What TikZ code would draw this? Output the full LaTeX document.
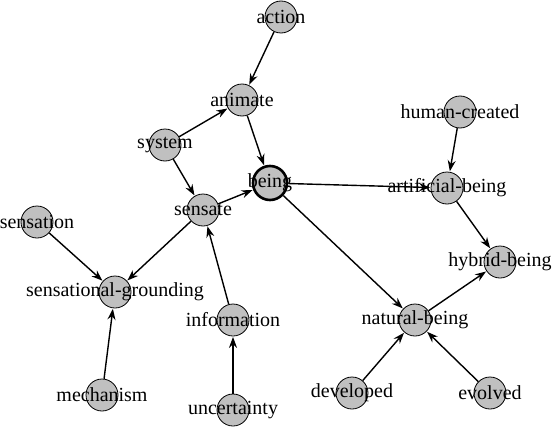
\documentclass[tikz,border=0pt]{standalone}
\usepackage{fontspec}
\setmainfont{Liberation Serif}
\usepackage{xcolor}
\usepackage{tikz}
\usetikzlibrary{shapes.geometric, arrows.meta}

\definecolor{nodegray}{HTML}{C0C0C0}

\begin{document}
\begin{tikzpicture}[
  x=1pt, y=-1pt,
  concept/.style={circle, draw, fill=nodegray, line width=0.8pt,
                  minimum size=32pt, inner sep=0pt,
                  label={[font=\fontsize{20}{22}\selectfont, inner sep=0pt]center:#1}},
  arr/.style={-{Stealth[length=11pt, width=8pt]}, line width=1.4pt, shorten >=0.5pt}
]
  \useasboundingbox (0,0) rectangle (556,428);

  \node[concept=action] (action) at (281,17) {};
  \node[concept=animate] (animate) at (242,100) {};
  \node[concept=system] (system) at (165,145) {};
  \node[concept=being, line width=2.6pt, minimum size=34pt] (being) at (270,183) {};
  \node[concept=sensate] (sensate) at (203,210) {};
  \node[concept=sensation] (sensation) at (37,222) {};
  \node[concept=sensational-grounding] (sg) at (115,292) {};
  \node[concept=information] (info) at (233,320) {};
  \node[concept=mechanism] (mech) at (102,395) {};
  \node[concept=uncertainty] (unc) at (233,410) {};
  \node[concept=human-created] (human) at (460,112) {};
  \node[concept=artificial-being] (art) at (447,188) {};
  \node[concept=hybrid-being] (hyb) at (500,262) {};
  \node[concept=natural-being] (nat) at (415,320) {};
  \node[concept=developed] (dev) at (352,393) {};
  \node[concept=evolved] (evo) at (490,393) {};

  \draw[arr] (action) -- (animate);
  \draw[arr] (system) -- (animate);
  \draw[arr] (animate) -- (being);
  \draw[arr] (system) -- (sensate);
  \draw[arr] (sensate) -- (being);
  \draw[arr] (being) -- (art);
  \draw[arr] (being) -- (nat);
  \draw[arr] (human) -- (art);
  \draw[arr] (art) -- (hyb);
  \draw[arr] (nat) -- (hyb);
  \draw[arr] (dev) -- (nat);
  \draw[arr] (evo) -- (nat);
  \draw[arr] (sensate) -- (sg);
  \draw[arr] (sensation) -- (sg);
  \draw[arr] (mech) -- (sg);
  \draw[arr] (info) -- (sensate);
  \draw[arr] (unc) -- (info);
\end{tikzpicture}
\end{document}
